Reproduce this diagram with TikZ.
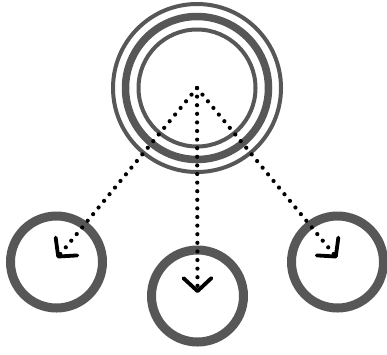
\documentclass[tikz,border=0pt]{standalone}
\usetikzlibrary{arrows.meta}
\definecolor{ringgray}{HTML}{575757}
\begin{document}
\begin{tikzpicture}[x=1pt,y=-1pt,
  ring/.style={circle, draw=ringgray, inner sep=0pt, fill=none},
  smallring/.style={ring, line width=9pt, minimum size=92pt},
  link/.style={line width=4.2pt, line cap=round, dash pattern=on 0pt off 8.6pt,
    -{Straight Barb[length=13pt,width=28pt,line width=3.8pt,round]}}]
  \useasboundingbox (0,0) rectangle (387,354);
  % source: triple ring
  \node[ring, line width=4pt, minimum size=168pt] (outer) at (197,88) {};
  \node[ring, line width=7.5pt, minimum size=143pt] (middle) at (197,88) {};
  \node[ring, line width=4pt, minimum size=117pt] (inner) at (197,88) {};
  \coordinate (src) at (197,88);
  % targets
  \node[smallring] (left) at (56.5,262) {};
  \node[smallring] (center) at (197.5,296) {};
  \node[smallring] (right) at (337.5,262) {};
  % dotted connectors
  \draw[link] (src) -- ([shift={(0.5,-4)}]left.center);
  \draw[link] (src) -- ([shift={(0,-3)}]center.center);
  \draw[link] (src) -- ([shift={(-0.5,-4)}]right.center);
\end{tikzpicture}
\end{document}
